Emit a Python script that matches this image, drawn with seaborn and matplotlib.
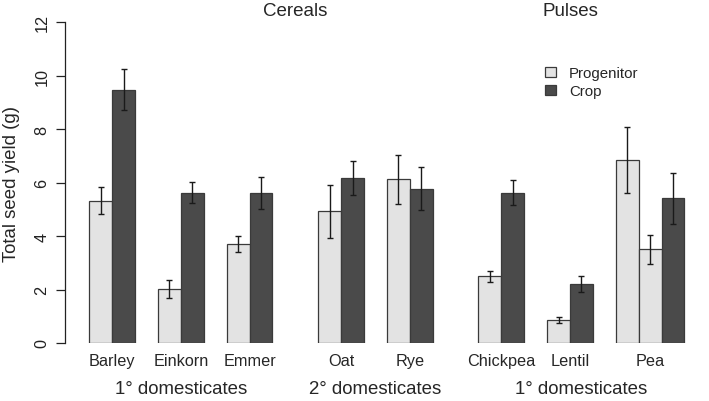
import matplotlib
matplotlib.use("Agg")
import matplotlib.pyplot as plt
import seaborn as sns
import pandas as pd
from matplotlib.patches import Patch

# crop level info
crops = ["Barley", "Einkorn", "Emmer", "Oat", "Rye", "Chickpea", "Lentil", "Pea"]
crop_group = ["1° domesticates"] * 3 + ["2° domesticates"] * 2 + ["1° domesticates"] * 3
crop_section = ["Cereals"] * 5 + ["Pulses"] * 3

# one entry per bar (Pea has two progenitors)
bar_crop = ["Barley", "Barley", "Einkorn", "Einkorn", "Emmer", "Emmer",
            "Oat", "Oat", "Rye", "Rye", "Chickpea", "Chickpea",
            "Lentil", "Lentil", "Pea", "Pea", "Pea"]
bar_type = ["Progenitor", "Crop"] * 7 + ["Progenitor", "Progenitor", "Crop"]
bar_yield = [5.32, 9.47, 2.02, 5.63, 3.71, 5.63, 4.93, 6.17, 6.12, 5.78,
             2.49, 5.63, 0.86, 2.21, 6.85, 3.50, 5.41]
bar_err = [0.50, 0.77, 0.35, 0.41, 0.31, 0.60, 0.99, 0.63, 0.92, 0.80,
           0.21, 0.46, 0.12, 0.30, 1.25, 0.55, 0.95]

colors = {"Progenitor": "#e3e3e3", "Crop": "#4a4a4a"}

sns.set_style("ticks")
plt.rcParams["font.family"] = ["Liberation Sans", "DejaVu Sans"]

# runs of crops sharing group + section
run_id = {}
r = 0
for i, c in enumerate(crops):
    if i > 0 and (crop_group[i] != crop_group[i - 1] or crop_section[i] != crop_section[i - 1]):
        r += 1
    run_id[c] = r

# bar positions: 1 bar gap between crops, 2 between groups
pos = []
x = 0
prev = None
for c in bar_crop:
    if prev is not None and c != prev:
        x += 2 if run_id[c] != run_id[prev] else 1
    pos.append(x + 0.5)
    x += 1
    prev = c

df = pd.DataFrame({"crop": bar_crop, "type": bar_type, "yield": bar_yield,
                   "err": bar_err, "pos": pos})

W, H = 709, 402
fig = plt.figure(figsize=(W / 100, H / 100), dpi=100)
ax = fig.add_axes([65.3 / W, 58 / H, 642 / W, 320.7 / H])

sns.barplot(data=df, x="pos", y="yield", hue="type", native_scale=True, dodge=False,
            width=1, palette=colors, edgecolor="#3a3a3a", linewidth=0.9,
            errorbar=None, legend=False, ax=ax)
ax.errorbar(df["pos"], df["yield"], yerr=df["err"], fmt="none", ecolor="#1a1a1a",
            elinewidth=1, capsize=2, capthick=1)

ax.set_xlim(-1.05, 27)
ax.set_ylim(0, 12)

# x tick labels at crop centres
centers = df.groupby("crop", sort=False)["pos"].mean()
ax.set_xticks(centers.values)
ax.set_xticklabels(centers.index, fontsize=11.7)
ax.tick_params(axis="x", length=0, pad=7)
ax.spines["bottom"].set_visible(False)
ax.spines["top"].set_visible(False)
ax.spines["right"].set_visible(False)

ax.set_yticks(range(0, 13, 2))
ax.set_yticklabels([str(v) for v in range(0, 13, 2)], fontsize=11.7, rotation=90, va="center")
ax.tick_params(axis="y", length=6.3, width=0.9, pad=5, colors="#222222")
ax.spines["left"].set_bounds(0, 12)
ax.spines["left"].set_color("#222222")
ax.spines["left"].set_linewidth(0.9)
ax.set_xlabel("")
ax.set_ylabel("")

fig.text(11.7 / W, 1 - 183.7 / H, "Total seed yield (g)", rotation=90,
         ha="center", va="center", fontsize=13.4)

# group labels below crop names
trans = ax.get_xaxis_transform()
df["run"] = [run_id[c] for c in df["crop"]]
for rid, sub in df.groupby("run"):
    gx = (sub["pos"].min() + sub["pos"].max()) / 2
    gname = crop_group[crops.index(sub["crop"].iloc[0])]
    ax.text(gx, -0.1434, gname, transform=trans, ha="center", va="center", fontsize=13.4)

# section titles
emmer_end = df.loc[df.crop == "Emmer", "pos"].max() + 0.5
oat_start = df.loc[df.crop == "Oat", "pos"].min() - 0.5
ax.text((emmer_end + oat_start) / 2, 1.036, "Cereals", transform=trans,
        ha="center", va="center", fontsize=13.5)
ax.text(centers["Lentil"], 1.036, "Pulses", transform=trans,
        ha="center", va="center", fontsize=13.5)

handles = [Patch(facecolor=colors[k], edgecolor="#3a3a3a", linewidth=0.9, label=k)
           for k in ["Progenitor", "Crop"]]
fig.legend(handles=handles, loc="center left", bbox_to_anchor=(545 / W, 1 - 83.3 / H),
           frameon=False, fontsize=10.8, handlelength=0.75, handleheight=0.7,
           handletextpad=0.85, labelspacing=0.25, borderpad=0, borderaxespad=0)

fig.savefig("out.png", dpi=100)
